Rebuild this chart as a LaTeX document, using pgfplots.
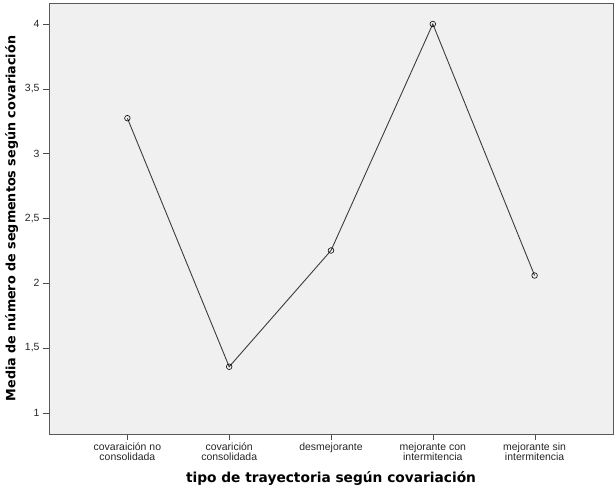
\documentclass[border=0pt]{standalone}
\usepackage{pgfplots}
\pgfplotsset{compat=1.18}
\usepackage{fontspec}
\setmainfont{Liberation Sans}
\newfontfamily\labelfont{DejaVu Sans}
\definecolor{plotbg}{RGB}{240,240,240}
\definecolor{linegray}{RGB}{60,60,60}
\begin{document}
\begin{tikzpicture}
\begin{axis}[
	scale only axis,
	width=564bp, height=431bp,
	xmin=-0.77, xmax=4.77,
	ymin=0.836, ymax=4.162,
	axis background/.style={fill=plotbg},
	axis line style={black!65},
	xtick=data,
	xticklabels={covaraición no\\consolidada, covarición\\consolidada, desmejorante, mejorante con\\intermitencia, mejorante sin\\intermitencia},
	xticklabel style={align=center, font=\fontsize{10.5}{10.5}\selectfont, text=black!85, yshift=1bp},
	ytick={1,1.5,2,2.5,3,3.5,4},
	yticklabel style={font=\fontsize{10.5}{11}\selectfont, text=black!85},
	/pgf/number format/assume math mode=true,
	/pgf/number format/use comma,
	tick align=outside,
	major tick length=6bp,
	tick style={black!70},
	xtick pos=bottom, ytick pos=left,
	xlabel={tipo de trayectoria según covariación},
	ylabel={Media de número de segmentos según covariación},
	xlabel style={font=\labelfont\fontsize{13.8}{14}\selectfont\bfseries, yshift=-4bp},
	ylabel style={font=\labelfont\fontsize{12.8}{14}\selectfont\bfseries, yshift=0bp},
	clip=false
]
\addplot[color=linegray, line width=0.9pt, mark=o, mark size=2.8bp, mark options={black, line width=0.6pt}]
coordinates{
	(0, 3.273)
	(1, 1.355)
	(2, 2.252)
	(3, 4.000)
	(4, 2.059)
};
\end{axis}
\pgfresetboundingbox
\path ([xshift=-49bp,yshift=-60bp]current axis.south west) rectangle ([xshift=3bp,yshift=3bp]current axis.north east);
\end{tikzpicture}
\end{document}
